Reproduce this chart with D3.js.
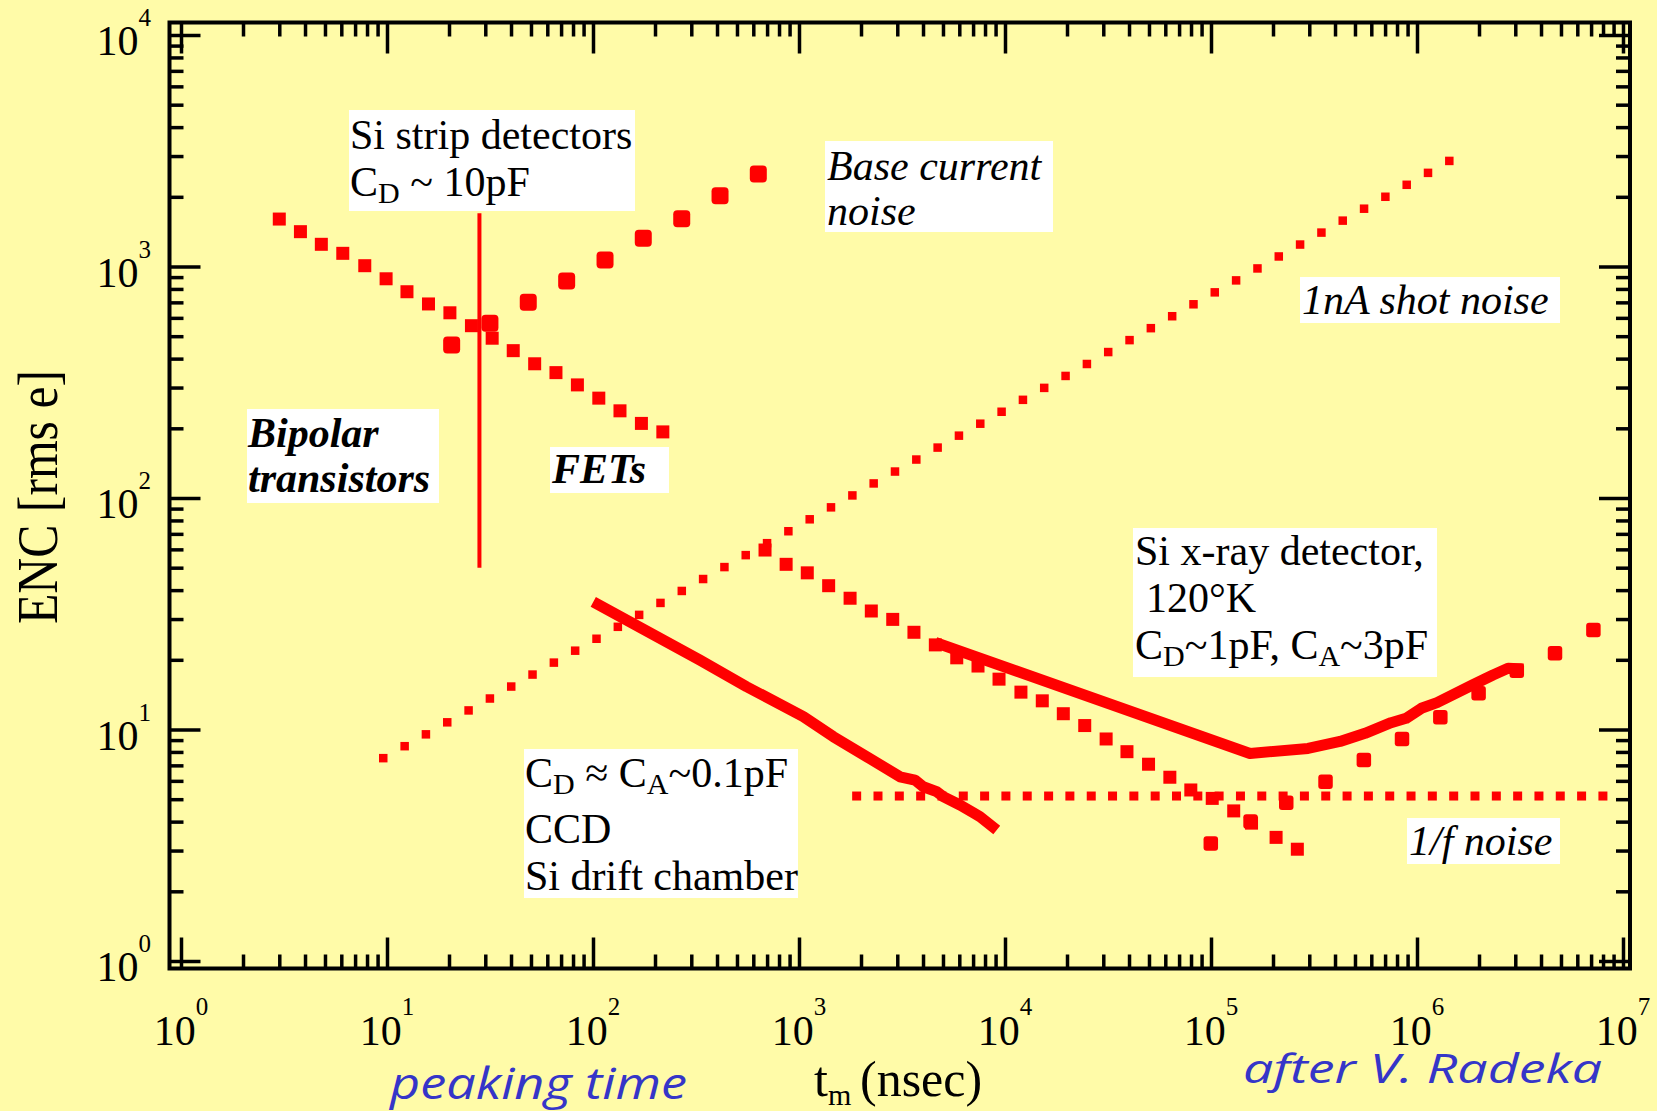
<!DOCTYPE html>
<html><head><meta charset="utf-8">
<script src="https://cdn.jsdelivr.net/npm/d3@7"></script>
<style>
html,body{margin:0;padding:0;background:#fffba8;}
svg{display:block}
</style></head><body>
<svg id="chart" width="1657" height="1111"></svg>
<script>
// ---------------- data (peaking time in ns, ENC in rms e) ----------------
const xTickExps = [0, 1, 2, 3, 4, 5, 6, 7];
const yTickExps = [0, 1, 2, 3, 4];

const bipolarT   = [3.0, 3.8, 4.8, 6.1, 7.8, 9.9, 12.5, 15.9, 20.2, 25.7, 32.4, 41.0, 52.1, 66.1, 84.0, 106.7, 135.2, 171.8, 218.3];
const bipolarENC = [1603, 1414, 1247, 1140, 1008, 885, 778, 689, 631, 555, 490, 433, 380, 348, 308, 270, 238, 210, 193];

const baseT   = [20.6, 31.6, 48.5, 74.5, 114.4, 175.4, 269.6, 413.7, 634.5];
const baseENC = [458, 569, 700, 865, 1067, 1324, 1608, 2023, 2510];

const shotT = [9.59, 12.18, 15.45, 19.61, 24.89, 31.59, 40.09, 50.87, 64.57, 81.93,
  104.0, 132.0, 167.5, 212.6, 269.8, 342.4, 434.5, 551.3, 699.8, 888.1,
  1127, 1430, 1816, 2304, 2924, 3711, 4710, 5976, 7586, 9627,
  12220, 15500, 19680, 24980, 31700, 40230, 51050, 64790, 82220, 104300,
  132400, 168100, 213300, 270700, 343600, 436000, 553400, 702300, 891300, 1131000, 1435000];
const shotENC = [7.52, 8.47, 9.53, 10.74, 12.09, 13.61, 15.33, 17.27, 19.45, 21.90,
  24.66, 27.77, 31.27, 35.22, 39.67, 44.67, 50.30, 56.65, 63.80, 71.85,
  80.91, 91.12, 102.6, 115.6, 130.1, 146.6, 165.1, 185.9, 209.4, 235.8,
  265.5, 299.0, 336.7, 379.2, 427.0, 480.8, 541.5, 609.8, 686.7, 773.3,
  871.0, 980.9, 1105, 1244, 1401, 1578, 1777, 2001, 2254, 2538, 2858];

const fetT   = [684, 866, 1097, 1393, 1770, 2244, 2851, 3614, 4590, 5831, 7396, 9354, 11950, 15170, 19190, 24380, 30970, 39090, 49750, 63130, 79800, 101400, 128900, 157300, 207000, 262500];
const fetENC = [59.6, 51.7, 47.5, 41.8, 36.9, 32.5, 29.9, 26.3, 23.2, 20.4, 18.8, 16.5, 14.5, 13.3, 11.7, 10.4, 9.10, 8.02, 7.08, 6.22, 5.48, 5.04, 4.45, 3.94, 3.42, 3.04];

const xrayParT   = [99770, 155600, 231900, 359700, 552100, 845800, 1298000, 1991000, 3051000, 4677000, 7183000];
const xrayParENC = [3.22, 4.00, 4.83, 5.95, 7.38, 9.10, 11.29, 14.34, 17.95, 21.34, 26.9];

const flickerT = [1905, 2418, 3069, 3895, 4943, 6273, 7962, 10100, 12820, 16280,
  20650, 26220, 33270, 42220, 53580, 68000, 86300, 109500, 139000, 176400,
  223900, 284100, 360600, 457700, 580800, 737100, 935400, 1187000, 1507000, 1912000,
  2427000, 3080000, 3908000, 4960000, 6295000, 7989000];
const flickerENC = [5.16, 5.16, 5.16, 5.16, 5.16, 5.16, 5.16, 5.16, 5.16, 5.16,
  5.16, 5.16, 5.16, 5.16, 5.16, 5.16, 5.16, 5.16, 5.16, 5.16,
  5.16, 5.16, 5.16, 5.16, 5.16, 5.16, 5.16, 5.16, 5.16, 5.16,
  5.16, 5.16, 5.16, 5.16, 5.16, 5.16];

const ccdT   = [100.3, 330.6, 557, 1050, 1468, 2133, 3093, 3655, 4010, 4658, 5012, 6046, 7020, 7568, 9120];
const ccdENC = [35.6, 19.95, 15.3, 11.37, 9.31, 7.63, 6.25, 6.05, 5.66, 5.39, 5.13, 4.72, 4.37, 4.20, 3.68];

const xrayT   = [4590, 154600, 295800, 423000, 559600, 748200, 885100, 1050000, 1251000, 1858000, 2339000, 2767000, 3289000];
const xrayENC = [23.76, 7.88, 8.28, 8.88, 9.63, 10.70, 11.18, 12.35, 13.06, 15.57, 17.2, 18.38, 18.25];

const stripT   = [28.1, 28.1];
const stripENC = [50, 1700];

// ---------------- layout ----------------
const svg = d3.select("#chart");
const W = 1657, H = 1111;
const frame = {left: 169.5, right: 1630, top: 22.5, bottom: 968.5};
const x = d3.scaleLog().domain([1, 1e7]).range([181, 1623]);
const y = d3.scaleLog().domain([1, 1e4]).range([961, 35]);
const RED = "#ff0000";
const SERIF = "'Liberation Serif','Times New Roman',serif";

svg.append("rect").attr("width", W).attr("height", H).attr("fill", "#fffba8");

// ---------------- axes / ticks ----------------
const xMajor = xTickExps.map(k => Math.pow(10, k));
const yMajor = yTickExps.map(k => Math.pow(10, k));
const xMinor = [], yMinor = [];
xTickExps.slice(0, -1).forEach(k => { for (let m = 2; m <= 9; m++) xMinor.push(m * Math.pow(10, k)); });
yTickExps.slice(0, -1).forEach(k => { for (let m = 2; m <= 9; m++) yMinor.push(m * Math.pow(10, k)); });

function tickAxis(axisFn, scale, vals, size, tx, ty) {
  const g = svg.append("g").attr("transform", `translate(${tx},${ty})`)
    .call(axisFn(scale).tickValues(vals).tickSize(-size).tickFormat(""));
  g.select(".domain").remove();
  g.selectAll("text").remove();
  g.selectAll("line").attr("stroke", "#000").attr("stroke-width", 3.5);
}
tickAxis(d3.axisBottom, x, xMajor, 31, 0, frame.bottom);
tickAxis(d3.axisBottom, x, xMinor, 14, 0, frame.bottom);
tickAxis(d3.axisTop, x, xMajor, 31, 0, frame.top);
tickAxis(d3.axisTop, x, xMinor, 14, 0, frame.top);
tickAxis(d3.axisLeft, y, yMajor, 31, frame.left, 0);
tickAxis(d3.axisLeft, y, yMinor, 14, frame.left, 0);
tickAxis(d3.axisRight, y, yMajor, 31, frame.right, 0);
tickAxis(d3.axisRight, y, yMinor, 14, frame.right, 0);

svg.append("rect")
  .attr("x", frame.left).attr("y", frame.top)
  .attr("width", frame.right - frame.left).attr("height", frame.bottom - frame.top)
  .attr("fill", "none").attr("stroke", "#000").attr("stroke-width", 4);

// tick labels
xTickExps.forEach(k => {
  const t = svg.append("text").attr("x", x(Math.pow(10, k))).attr("y", 1045)
    .attr("text-anchor", "middle").attr("font-family", SERIF).attr("font-size", 42).attr("fill", "#000");
  t.append("tspan").text("10");
  t.append("tspan").attr("font-size", 25).attr("dy", -30).text(k);
});
yTickExps.forEach(k => {
  const t = svg.append("text").attr("x", 151).attr("y", y(Math.pow(10, k)) + 20)
    .attr("text-anchor", "end").attr("font-family", SERIF).attr("font-size", 42).attr("fill", "#000");
  t.append("tspan").text("10");
  t.append("tspan").attr("font-size", 25).attr("dy", -29).text(k);
});

// axis titles
svg.append("text")
  .attr("transform", "translate(56.5,497) rotate(-90) scale(1,1.25)")
  .attr("text-anchor", "middle").attr("font-family", SERIF).attr("font-size", 46)
  .attr("textLength", 254).attr("lengthAdjust", "spacingAndGlyphs")
  .attr("fill", "#000").text("ENC [rms e]");

const xt = svg.append("text").attr("x", 814).attr("y", 1096)
  .attr("font-family", SERIF).attr("font-size", 50).attr("fill", "#000");
xt.append("tspan").text("t");
xt.append("tspan").attr("font-size", 30).attr("dy", 9).text("m");
xt.append("tspan").attr("dy", -9).attr("x", 860).text("(nsec)");

svg.append("text").attr("x", 390).attr("y", 1099)
  .attr("font-family", "'Open Sans','Noto Sans',sans-serif").attr("font-style", "italic")
  .attr("font-size", 44).attr("fill", "#3535c8")
  .attr("textLength", 297).attr("lengthAdjust", "spacingAndGlyphs").text("peaking time");
svg.append("text").attr("x", 1243).attr("y", 1083)
  .attr("font-family", "'Open Sans','Noto Sans',sans-serif").attr("font-style", "italic")
  .attr("font-size", 40).attr("fill", "#3535c8")
  .attr("textLength", 359).attr("lengthAdjust", "spacingAndGlyphs").text("after V. Radeka");

// ---------------- marks ----------------
const plot = svg.append("g");

function squares(ts, vs, size, rx) {
  plot.append("g").selectAll("rect")
    .data(ts.map((t, i) => [t, vs[i]]))
    .join("rect")
    .attr("x", d => x(d[0]) - size / 2).attr("y", d => y(d[1]) - size / 2)
    .attr("width", size).attr("height", size).attr("rx", rx)
    .attr("fill", RED);
}
function curve(ts, vs, w) {
  const line = d3.line().x(d => x(d[0])).y(d => y(d[1]));
  plot.append("path").attr("d", line(ts.map((t, i) => [t, vs[i]])))
    .attr("fill", "none").attr("stroke", RED).attr("stroke-width", w)
    .attr("stroke-linejoin", "round").attr("stroke-linecap", "butt");
}

squares(shotT, shotENC, 8.5, 0);
squares(flickerT, flickerENC, 9, 0);
squares(bipolarT, bipolarENC, 13, 0);
squares(baseT, baseENC, 17, 4);
squares(fetT, fetENC, 13, 0);
squares(xrayParT, xrayParENC, 14.5, 3);
curve(ccdT, ccdENC, 11);
curve(xrayT, xrayENC, 11);
curve(stripT, stripENC, 4);

// ---------------- annotation boxes ----------------
function box(bx, by, bw, bh, lines, style) {
  const g = svg.append("g");
  g.append("rect").attr("x", bx).attr("y", by).attr("width", bw).attr("height", bh).attr("fill", "#fff");
  lines.forEach(l => {
    const t = g.append("text").attr("x", l.x).attr("y", l.y)
      .attr("font-family", SERIF).attr("font-size", 42).attr("fill", "#000")
      .attr("font-style", style.italic ? "italic" : "normal")
      .attr("font-weight", style.bold ? "bold" : "normal");
    let offset = 0;
    l.parts.forEach(p => {
      if (typeof p === "string") {
        t.append("tspan").attr("dy", -offset).text(p);
        offset = 0;
      } else {
        t.append("tspan").attr("font-size", 30).attr("dy", 7).text(p.sub);
        offset = 7;
      }
    });
  });
}
box(349, 110, 286, 101, [
  {x: 350, y: 149, parts: ["Si strip detectors"]},
  {x: 350, y: 196, parts: ["C", {sub: "D"}, " ~ 10pF"]}
], {});
box(825, 141, 228, 91, [
  {x: 827, y: 180, parts: ["Base current"]},
  {x: 827, y: 225, parts: ["noise"]}
], {italic: true});
box(1300, 277, 260, 46, [
  {x: 1302, y: 314, parts: ["1nA shot noise"]}
], {italic: true});
box(247, 409, 192, 94, [
  {x: 248, y: 447, parts: ["Bipolar"]},
  {x: 248, y: 492, parts: ["transistors"]}
], {italic: true, bold: true});
box(550, 447, 119, 46, [
  {x: 552, y: 483, parts: ["FETs"]}
], {italic: true, bold: true});
box(1133, 528, 304, 149, [
  {x: 1135, y: 565, parts: ["Si x-ray detector,"]},
  {x: 1146, y: 612, parts: ["120°K"]},
  {x: 1135, y: 659, parts: ["C", {sub: "D"}, "~1pF, C", {sub: "A"}, "~3pF"]}
], {});
box(524, 749, 274, 149, [
  {x: 525, y: 787, parts: ["C", {sub: "D"}, " ≈ C", {sub: "A"}, "~0.1pF"]},
  {x: 525, y: 843, parts: ["CCD"]},
  {x: 525, y: 890, parts: ["Si drift chamber"]}
], {});
box(1407, 818, 153, 46, [
  {x: 1409, y: 855, parts: ["1/f noise"]}
], {italic: true});
</script></body></html>
